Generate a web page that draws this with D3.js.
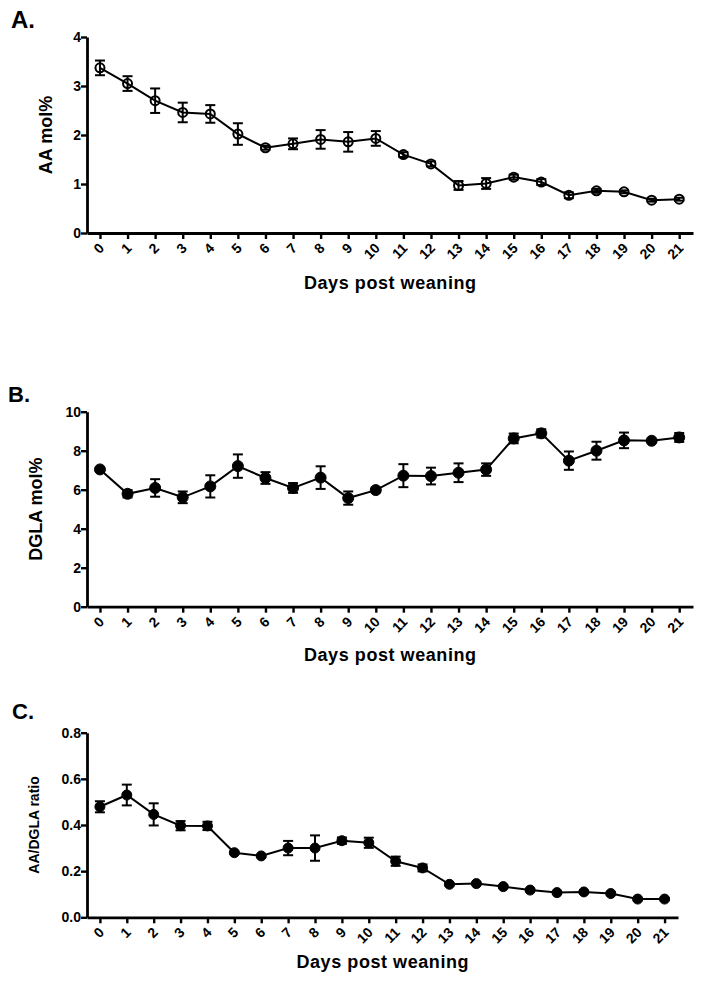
<!DOCTYPE html>
<html>
<head>
<meta charset="utf-8">
<script src="https://cdn.jsdelivr.net/npm/d3@7"></script>
<style>
  body { margin: 0; background: #fff; }
  svg { display: block; }
  text { font-family: "Liberation Sans", Arial, Helvetica, sans-serif; font-weight: bold; fill: #000; }
</style>
</head>
<body>
<svg id="chart" width="704" height="982"></svg>
<script>
const days = [0, 1, 2, 3, 4, 5, 6, 7, 8, 9, 10, 11, 12, 13, 14, 15, 16, 17, 18, 19, 20, 21];

// panel A: AA mol%
const aaMean = [3.37, 3.05, 2.70, 2.46, 2.43, 2.02, 1.74, 1.82, 1.91, 1.86, 1.93, 1.60, 1.41, 0.97, 1.01, 1.14, 1.04, 0.77, 0.86, 0.84, 0.67, 0.69];
const aaSem = [0.15, 0.15, 0.25, 0.20, 0.18, 0.22, 0.04, 0.11, 0.19, 0.20, 0.15, 0.05, 0.05, 0.09, 0.11, 0.05, 0.06, 0.06, 0.04, 0.03, 0.03, 0.03];
const aaTicks = [0, 1, 2, 3, 4];

// panel B: DGLA mol%
const dglaMean = [7.04, 5.79, 6.09, 5.61, 6.17, 7.21, 6.60, 6.09, 6.62, 5.57, 5.98, 6.72, 6.70, 6.87, 7.03, 8.63, 8.89, 7.49, 8.00, 8.53, 8.51, 8.68];
const dglaSem = [0.08, 0.19, 0.45, 0.30, 0.57, 0.60, 0.30, 0.25, 0.58, 0.34, 0.12, 0.59, 0.43, 0.48, 0.32, 0.25, 0.21, 0.47, 0.46, 0.40, 0.05, 0.23];
const dglaTicks = [0, 2, 4, 6, 8, 10];

// panel C: AA/DGLA ratio
const ratioMean = [0.479, 0.530, 0.446, 0.397, 0.396, 0.280, 0.266, 0.300, 0.300, 0.332, 0.323, 0.243, 0.214, 0.143, 0.146, 0.133, 0.118, 0.107, 0.110, 0.103, 0.079, 0.079];
const ratioSem = [0.024, 0.045, 0.048, 0.020, 0.018, 0.005, 0.005, 0.031, 0.055, 0.014, 0.022, 0.020, 0.015, 0.005, 0.005, 0.005, 0.005, 0.005, 0.005, 0.005, 0.005, 0.005];
const ratioTicks = [0, 0.2, 0.4, 0.6, 0.8];

const svg = d3.select('#chart');

const panels = [
  {
    letter: 'A.', letterX: 11, letterY: 28, letterSize: 24,
    mean: aaMean, sem: aaSem, ticks: aaTicks, fmt: d3.format('d'), yMax: 4,
    top: 37, bottom: 233, left: 87, right: 693, xMin: -0.47, xMax: 21.5,
    yTitle: 'AA mol%', yTitleX: 52, yTitleSize: 18,
    xTitleY: 289, open: true, r: 4.5,
  },
  {
    letter: 'B.', letterX: 8, letterY: 402, letterSize: 22,
    mean: dglaMean, sem: dglaSem, ticks: dglaTicks, fmt: d3.format('d'), yMax: 10,
    top: 411.7, bottom: 606.7, left: 87, right: 693, xMin: -0.47, xMax: 21.5,
    yTitle: 'DGLA mol%', yTitleX: 42, yTitleSize: 18,
    xTitleY: 661, open: false, r: 5.5,
  },
  {
    letter: 'C.', letterX: 12, letterY: 719, letterSize: 22,
    mean: ratioMean, sem: ratioSem, ticks: ratioTicks, fmt: d3.format('.1f'), yMax: 0.8,
    top: 732.7, bottom: 917.3, left: 87, right: 678, xMin: -0.48, xMax: 21.5,
    yTitle: 'AA/DGLA ratio', yTitleX: 38.5, yTitleSize: 14,
    xTitleY: 968, open: false, r: 5,
  },
];

panels.forEach(function (p) {
  const x = d3.scaleLinear().domain([p.xMin, p.xMax]).range([p.left, p.right]);
  const y = d3.scaleLinear().domain([0, p.yMax]).range([p.bottom, p.top]);
  const g = svg.append('g');

  // panel letter
  g.append('text')
    .attr('x', p.letterX)
    .attr('y', p.letterY)
    .attr('font-size', p.letterSize)
    .text(p.letter);

  // x axis (labels drawn by hand so they can be rotated)
  const xAxis = g.append('g')
    .attr('transform', 'translate(0,' + p.bottom + ')')
    .call(d3.axisBottom(x).tickValues(days).tickFormat('').tickSize(6).tickSizeOuter(0));
  xAxis.select('.domain').attr('stroke-width', 2.8);
  xAxis.selectAll('.tick line').attr('stroke-width', 2.4);

  g.append('g')
    .selectAll('text')
    .data(days)
    .enter()
    .append('text')
    .attr('text-anchor', 'end')
    .attr('font-size', 14)
    .attr('transform', function (d) {
      return 'translate(' + (x(d) + 5) + ',' + (p.bottom + 16) + ') rotate(-45)';
    })
    .text(function (d) { return d; });

  // y axis
  const yAxis = g.append('g')
    .attr('transform', 'translate(' + p.left + ',0)')
    .call(d3.axisLeft(y).tickValues(p.ticks).tickFormat('').tickSize(6).tickSizeOuter(0));
  yAxis.select('.domain').attr('stroke-width', 2.8);
  yAxis.selectAll('.tick line').attr('stroke-width', 2.4);

  g.append('g')
    .selectAll('text')
    .data(p.ticks)
    .enter()
    .append('text')
    .attr('text-anchor', 'end')
    .attr('font-size', 14)
    .attr('x', p.left - 6)
    .attr('y', function (d) { return y(d) + 5; })
    .text(p.fmt);

  // axis titles
  g.append('text')
    .attr('x', (p.left + p.right) / 2)
    .attr('y', p.xTitleY)
    .attr('text-anchor', 'middle')
    .attr('font-size', 18)
    .attr('textLength', 172)
    .text('Days post weaning');

  g.append('text')
    .attr('transform', 'translate(' + p.yTitleX + ',' + (p.top + p.bottom) / 2 + ') rotate(-90)')
    .attr('text-anchor', 'middle')
    .attr('font-size', p.yTitleSize)
    .text(p.yTitle);

  const pts = days.map(function (d, i) {
    return { day: d, mean: p.mean[i], sem: p.sem[i] };
  });

  // connecting line
  g.append('path')
    .datum(pts)
    .attr('fill', 'none')
    .attr('stroke', '#000')
    .attr('stroke-width', 2)
    .attr('d', d3.line().x(function (d) { return x(d.day); }).y(function (d) { return y(d.mean); }));

  // error bars
  const eb = g.append('g').attr('stroke', '#000').attr('stroke-width', 2);
  pts.forEach(function (d) {
    const cx = x(d.day);
    const y1 = y(d.mean + d.sem);
    const y2 = y(d.mean - d.sem);
    eb.append('line').attr('x1', cx).attr('x2', cx).attr('y1', y1).attr('y2', y2);
    eb.append('line').attr('x1', cx - 5).attr('x2', cx + 5).attr('y1', y1).attr('y2', y1);
    eb.append('line').attr('x1', cx - 5).attr('x2', cx + 5).attr('y1', y2).attr('y2', y2);
  });

  // markers
  g.append('g')
    .selectAll('circle')
    .data(pts)
    .enter()
    .append('circle')
    .attr('cx', function (d) { return x(d.day); })
    .attr('cy', function (d) { return y(d.mean); })
    .attr('r', p.r)
    .attr('fill', p.open ? 'none' : '#000')
    .attr('stroke', '#000')
    .attr('stroke-width', p.open ? 2 : 1);
});
</script>
</body>
</html>
